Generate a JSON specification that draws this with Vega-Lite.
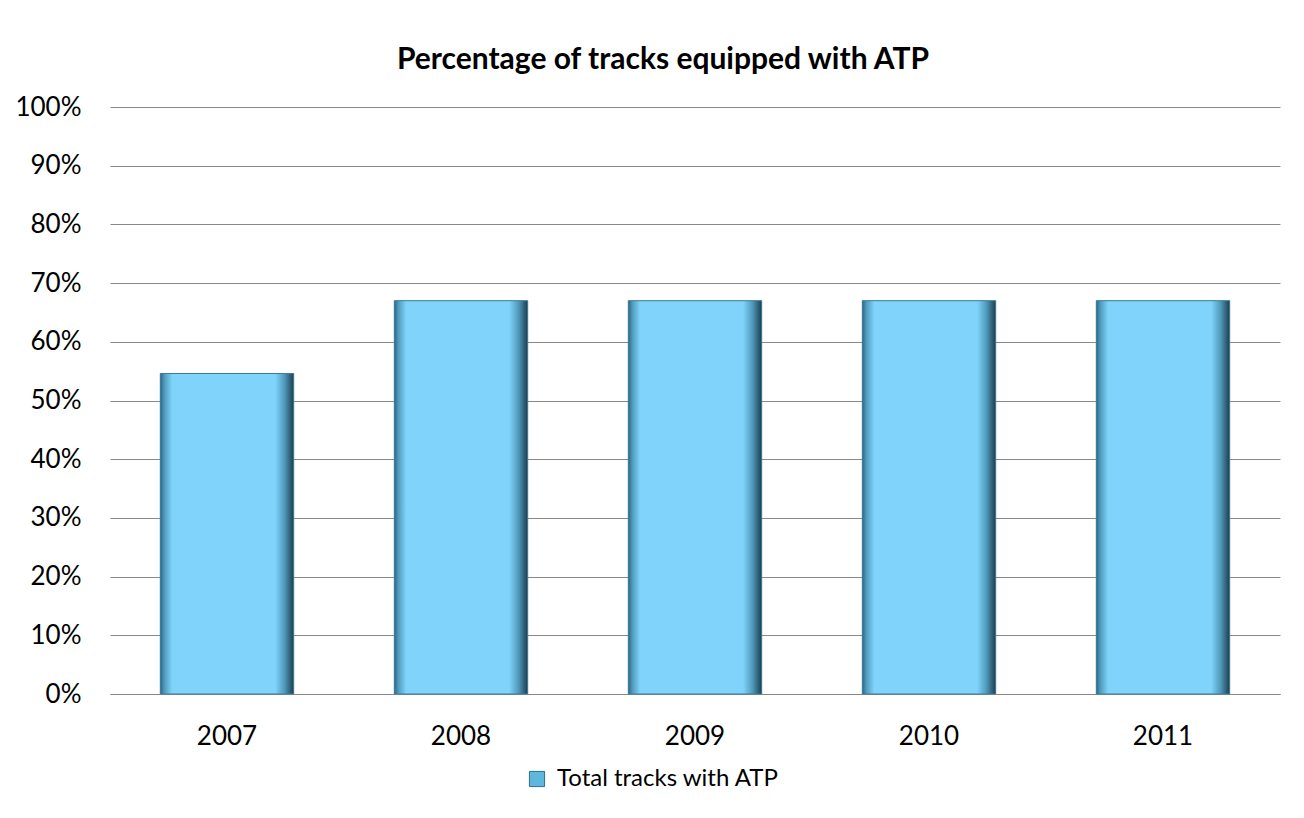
{
  "$schema": "https://vega.github.io/schema/vega-lite/v6.json",
  "width": 1170,
  "height": 587,
  "autosize": {"type": "none"},
  "padding": {"left": 110, "top": 107, "right": 24, "bottom": 124},
  "background": "white",
  "config": {"view": {"stroke": null}},
  "title": {
    "text": "Percentage of tracks equipped with ATP",
    "font": "Lato",
    "fontSize": 30,
    "fontWeight": "bold",
    "color": "#000000",
    "anchor": "middle",
    "dx": -32,
    "offset": 19
  },
  "data": {
    "values": [
      {"year": "2007", "share": 0.546, "series": "Total tracks with ATP"},
      {"year": "2008", "share": 0.67, "series": "Total tracks with ATP"},
      {"year": "2009", "share": 0.67, "series": "Total tracks with ATP"},
      {"year": "2010", "share": 0.67, "series": "Total tracks with ATP"},
      {"year": "2011", "share": 0.67, "series": "Total tracks with ATP"}
    ]
  },
  "encoding": {
    "x": {
      "field": "year",
      "type": "ordinal",
      "title": null,
      "scale": {"paddingInner": 0.43, "paddingOuter": 0.215},
      "axis": {
        "labelAngle": 0,
        "labelFont": "Lato",
        "labelFontSize": 26,
        "labelColor": "#000000",
        "labelPadding": 29,
        "ticks": false,
        "domain": true,
        "domainColor": "#888888",
        "grid": false
      }
    },
    "y": {
      "field": "share",
      "type": "quantitative",
      "title": null,
      "scale": {"domain": [0, 1], "nice": false},
      "axis": {
        "values": [0, 0.1, 0.2, 0.3, 0.4, 0.5, 0.6, 0.7, 0.8, 0.9, 1],
        "format": ".0%",
        "labelFont": "Lato",
        "labelFontSize": 26,
        "labelColor": "#000000",
        "labelPadding": 29,
        "ticks": false,
        "domain": false,
        "grid": true,
        "gridColor": "#888888",
        "gridWidth": 1
      }
    }
  },
  "layer": [
    {
      "mark": {"type": "bar"},
      "encoding": {
        "color": {
          "field": "series",
          "type": "nominal",
          "scale": {"range": ["#5fb7dd"]},
          "legend": {
            "title": null,
            "orient": "none",
            "legendX": 415,
            "legendY": 660,
            "direction": "horizontal",
            "symbolType": "square",
            "symbolSize": 230,
            "symbolStrokeColor": "#2f6f8c",
            "symbolStrokeWidth": 1,
            "labelFont": "Lato",
            "labelFontSize": 24,
            "labelColor": "#000000",
            "labelLimit": 0,
            "labelOffset": 8
          }
        }
      }
    },
    {
      "mark": {
        "type": "bar",
        "fill": {
          "gradient": "linear",
          "x1": 0, "y1": 0, "x2": 1, "y2": 0,
          "stops": [
            {"offset": 0, "color": "#2e6580"},
            {"offset": 0.03, "color": "#4f9bbd"},
            {"offset": 0.09, "color": "#80d4fb"},
            {"offset": 0.86, "color": "#80d4fb"},
            {"offset": 0.93, "color": "#4f9bbd"},
            {"offset": 1, "color": "#1f3d4c"}
          ]
        },
        "stroke": "#3c7c99",
        "strokeWidth": 1
      }
    }
  ]
}
